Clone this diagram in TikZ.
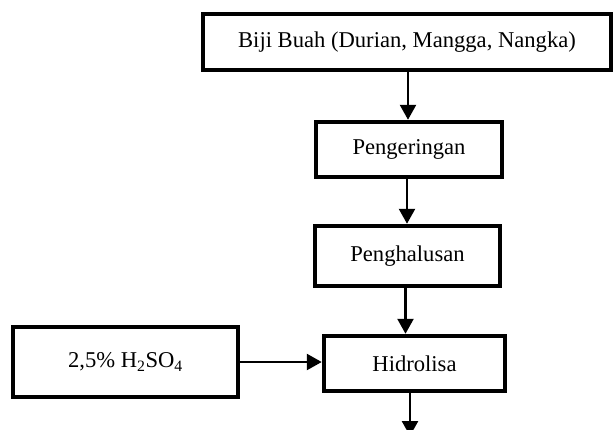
\documentclass[tikz,border=0pt]{standalone}
\usepackage{fontspec}
\setmainfont{Liberation Serif}
\usepackage{tikz}
\usetikzlibrary{positioning,calc,arrows.meta}

\begin{document}
\begin{tikzpicture}[
    x=1pt, y=-1pt,
    proses/.style={rectangle, draw, line width=4.5pt, fill=white, inner sep=2pt, font=\fontsize{22.6}{27}\selectfont},
    alir/.style={line width=2.5pt, -{Triangle[length=15pt,width=16pt]}}
]
    \useasboundingbox (0,0) rectangle (615,429);

    \node[proses, minimum width=408pt, minimum height=56pt] (biji) at (407,42) {Biji Buah (Durian, Mangga, Nangka)};
    \node[proses, minimum width=186pt, minimum height=55pt] (kering) at (409,149.5) {Pengeringan};
    \node[proses, minimum width=185pt, minimum height=60pt] (halus) at (407.5,256) {Penghalusan};
    \node[proses, minimum width=181pt, minimum height=55pt] (hidro) at (414.5,363.5) {Hidrolisa};
    \node[proses, minimum width=225pt, minimum height=70pt] (asam) at (125.5,362) {2,5\% H\textsubscript{2}SO\textsubscript{4}};
    \coordinate (lanjut) at (410,436);

    \draw[alir] ([xshift=1pt]biji.south) -- ([xshift=1pt]biji.south |- kering.north);
    \draw[alir] ([xshift=-2pt]kering.south) -- ([xshift=-2pt]kering.south |- halus.north);
    \draw[alir] ([xshift=-2pt]halus.south) -- ([xshift=-2pt]halus.south |- hidro.north);
    \draw[alir] (asam.east) -- (asam.east -| hidro.west);
    \draw[alir] (hidro.south -| lanjut) -- (lanjut);
\end{tikzpicture}
\end{document}
